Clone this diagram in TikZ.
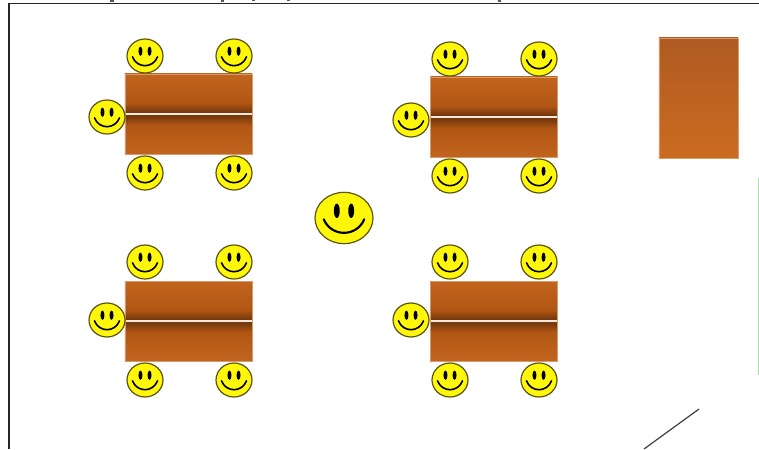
\documentclass[tikz,border=0pt]{standalone}
\usepackage{tikz}
\usetikzlibrary{shapes.geometric, positioning}

\definecolor{woodtop}{RGB}{192,100,30}
\definecolor{woodmid}{RGB}{178,86,20}
\definecolor{wooddark}{RGB}{118,58,14}
\definecolor{deskup}{RGB}{176,90,34}
\definecolor{desklow}{RGB}{202,108,32}
\definecolor{faceyellow}{RGB}{255,247,10}
\definecolor{faceline}{RGB}{92,84,18}

\pgfdeclareverticalshading{woodboard}{100bp}{
    color(0bp)=(woodtop); color(25bp)=(woodtop); color(43bp)=(woodmid);
    color(48.5bp)=(wooddark); color(51.5bp)=(wooddark); color(57bp)=(woodmid);
    color(75bp)=(woodtop); color(100bp)=(woodtop)}

\begin{document}
\begin{tikzpicture}[
        x=0.75pt, y=-0.75pt,
        facebase/.style={
            ellipse,
            draw=faceline,
            fill=faceyellow,
            line width=0.9pt,
            inner sep=0pt
        },
        smiley/.style={
            facebase,
            minimum width=27pt,
            minimum height=25.5pt,
            path picture={
                \fill [black] (-3.4pt,3.6pt) ellipse (1.5pt and 3.5pt);
                \fill [black] (3.4pt,3.6pt) ellipse (1.5pt and 3.5pt);
                \draw [black, line width=1.2pt, line cap=round] (-9.4pt,-0.6pt) .. controls (-6pt,-9.5pt) and (6pt,-9.5pt) .. (9.4pt,-0.6pt);
            }
        },
        bigsmiley/.style={
            facebase,
            minimum width=43.5pt,
            minimum height=38.5pt,
            path picture={
                \fill [black] (-5.4pt,5.4pt) ellipse (2.2pt and 5.4pt);
                \fill [black] (5.4pt,5.4pt) ellipse (2.2pt and 5.4pt);
                \draw [black, line width=1.6pt, line cap=round] (-15.2pt,-1pt) .. controls (-9.5pt,-14.5pt) and (9.5pt,-14.5pt) .. (15.2pt,-1pt);
            }
        },
        tablebox/.style={
            rectangle,
            draw=woodtop!65!white,
            line width=0.4pt,
            shading=woodboard,
            minimum width=95.5pt,
            minimum height=60pt,
            inner sep=0pt,
            path picture={
                \draw [black!70!wooddark, line width=2.1pt] (path picture bounding box.west) -- (path picture bounding box.east);
                \draw [white!85!woodtop, line width=0.9pt] (path picture bounding box.west) -- (path picture bounding box.east);
            }
        },
        plainbox/.style={
            rectangle,
            draw=woodtop!65!white,
            line width=0.4pt,
            top color=deskup,
            bottom color=desklow,
            minimum width=59.5pt,
            minimum height=90pt,
            inner sep=0pt
        },
        frameline/.style={
            draw=black!85,
            line width=0.95pt
        },
        speck/.style={
            fill=black!65
        }
        ]

        \useasboundingbox (0,0) rectangle (759,449);

        % tables
        \node (table1) [tablebox] at (188.5,114) {};
        \node (table2) [tablebox] at (494,117) {};
        \node (table3) [tablebox] at (188.5,321) {};
        \node (table4) [tablebox] at (494,321) {};
        \node (desk) [plainbox] at (698.5,98) {};

        % pupils
        \node (a1) [smiley] at (145,56) {};
        \node (a2) [smiley] at (234,56) {};
        \node (a3) [smiley] at (107,117) {};
        \node (a4) [smiley] at (145,173) {};
        \node (a5) [smiley] at (234,173) {};

        \node (b1) [smiley] at (450,59) {};
        \node (b2) [smiley] at (539,59) {};
        \node (b3) [smiley] at (411,120) {};
        \node (b4) [smiley] at (450,176) {};
        \node (b5) [smiley] at (539,176) {};

        \node (c1) [smiley] at (145,262) {};
        \node (c2) [smiley] at (234,262) {};
        \node (c3) [smiley] at (107,320) {};
        \node (c4) [smiley] at (145,380) {};
        \node (c5) [smiley] at (234,380) {};

        \node (d1) [smiley] at (450,262) {};
        \node (d2) [smiley] at (539,262) {};
        \node (d3) [smiley] at (411,320) {};
        \node (d4) [smiley] at (450,380) {};
        \node (d5) [smiley] at (539,380) {};

        % teacher
        \node (teacher) [bigsmiley] at (344,218) {};

        % frame and loose lines
        \coordinate (fa) at (9,449);
        \coordinate (fb) at (9,3.5);
        \coordinate (fc) at (759,3.5);
        \coordinate (ga) at (758.5,178);
        \coordinate (gb) at (758.5,375);
        \coordinate (ha) at (699,409);
        \coordinate (hb) at (644,449);

        \draw [frameline] (fa) -- (fb) -- (fc);
        \draw [draw=green!35!gray!45, line width=0.6pt] (ga) -- (gb);
        \draw [draw=black!75, line width=0.9pt] (ha) -- (hb);

        % cut-off marks above the frame
        \fill [speck] (110,0) rectangle (114,1.6);
        \fill [speck] (221,0) rectangle (224,1.8);
        \fill [speck] (252,0) rectangle (255,1.4);
        \fill [speck] (287,0) rectangle (290,1.4);
        \fill [speck] (498,0) rectangle (501,1.8);

    \end{tikzpicture}
\end{document}
